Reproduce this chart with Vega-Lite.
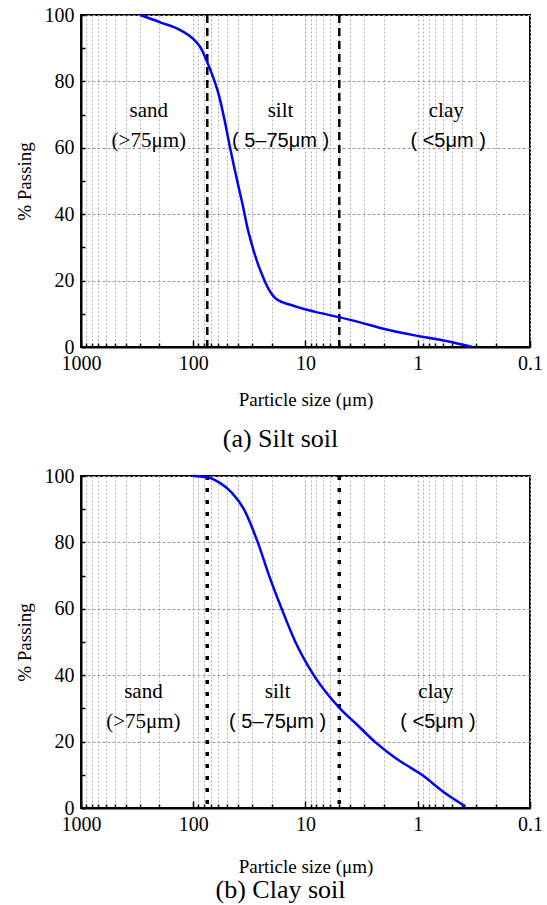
{
  "$schema": "https://vega.github.io/schema/vega-lite/v6.json",
  "padding": {"left": 14, "top": 4, "right": 4, "bottom": 2},
  "background": "white",
  "datasets": {
    "silt_soil": [
      {"size": 298, "passing": 100},
      {"size": 197, "passing": 97.8},
      {"size": 128, "passing": 95.3},
      {"size": 100, "passing": 92.8},
      {"size": 86.5, "passing": 90.3},
      {"size": 75, "passing": 85.8},
      {"size": 66.4, "passing": 81.2},
      {"size": 58.4, "passing": 75.2},
      {"size": 52.5, "passing": 68.2},
      {"size": 47.1, "passing": 60.2},
      {"size": 43.2, "passing": 54.2},
      {"size": 39.4, "passing": 48.1},
      {"size": 35.9, "passing": 42.1},
      {"size": 33.0, "passing": 36.1},
      {"size": 29.6, "passing": 30.1},
      {"size": 26.6, "passing": 25.1},
      {"size": 23.9, "passing": 21.1},
      {"size": 22.2, "passing": 18.6},
      {"size": 20.2, "passing": 16.2},
      {"size": 18.6, "passing": 14.7},
      {"size": 16.1, "passing": 13.5},
      {"size": 13.0, "passing": 12.5},
      {"size": 10.5, "passing": 11.5},
      {"size": 7.33, "passing": 10.2},
      {"size": 5.05, "passing": 9.0},
      {"size": 3.10, "passing": 7.2},
      {"size": 2.02, "passing": 5.5},
      {"size": 0.99, "passing": 3.3},
      {"size": 0.557, "passing": 1.8},
      {"size": 0.326, "passing": 0}
    ],
    "clay_soil": [
      {"size": 100, "passing": 100},
      {"size": 72.3, "passing": 99.5},
      {"size": 58.4, "passing": 98},
      {"size": 45.4, "passing": 95},
      {"size": 35.4, "passing": 90},
      {"size": 26.6, "passing": 80},
      {"size": 21.1, "passing": 70},
      {"size": 16.3, "passing": 60},
      {"size": 12.3, "passing": 50},
      {"size": 8.45, "passing": 40},
      {"size": 4.94, "passing": 30},
      {"size": 3.45, "passing": 25},
      {"size": 2.42, "passing": 20},
      {"size": 1.57, "passing": 15},
      {"size": 1.14, "passing": 12},
      {"size": 0.92, "passing": 10},
      {"size": 0.598, "passing": 5},
      {"size": 0.376, "passing": 0.5}
    ],
    "bounds": [
      {"size": 75},
      {"size": 5}
    ],
    "labels_a": [
      {"zone": "sand", "line": "name", "size": 249, "passing": 71, "label": "sand"},
      {"zone": "sand", "line": "range", "size": 249, "passing": 62, "label": "(>75μm)"},
      {"zone": "silt", "line": "name", "size": 16.7, "passing": 71, "label": "silt"},
      {"zone": "silt", "line": "range", "size": 16.7, "passing": 62, "label": "( 5–75μm )"},
      {"zone": "clay", "line": "name", "size": 0.557, "passing": 71, "label": "clay"},
      {"zone": "clay", "line": "range", "size": 0.536, "passing": 62, "label": "( <5μm )"}
    ],
    "labels_b": [
      {"zone": "sand", "line": "name", "size": 278, "passing": 35, "label": "sand"},
      {"zone": "sand", "line": "range", "size": 278, "passing": 26, "label": "(>75μm)"},
      {"zone": "silt", "line": "name", "size": 17.7, "passing": 35, "label": "silt"},
      {"zone": "silt", "line": "range", "size": 17.7, "passing": 26, "label": "( 5–75μm )"},
      {"zone": "clay", "line": "name", "size": 0.69, "passing": 35, "label": "clay"},
      {"zone": "clay", "line": "range", "size": 0.66, "passing": 26, "label": "( <5μm )"}
    ]
  },
  "vconcat": [
    {
      "width": 449,
      "height": 332,
      "title": {"text": "(a) Silt soil", "orient": "bottom", "anchor": "middle", "frame": "group", "dx": -25, "offset": 17, "fontSize": 26, "font": "Liberation Serif, DejaVu Serif, serif", "fontWeight": "normal", "color": "black"},
      "encoding": {
        "x": {
          "field": "size", "type": "quantitative",
          "scale": {"type": "log", "domain": [0.1, 1000], "reverse": true, "nice": false},
          "axis": {
            "title": "Particle size (μm)",
            "titlePadding": 14,
            "values": [1000, 900, 800, 700, 600, 500, 400, 300, 200, 100, 90, 80, 70, 60, 50, 40, 30, 20, 10, 9, 8, 7, 6, 5, 4, 3, 2, 1, 0.9, 0.8, 0.7, 0.6, 0.5, 0.4, 0.3, 0.2, 0.1],
            "labelExpr": "abs(log(datum.value)/LN10 - round(log(datum.value)/LN10)) < 1e-6 ? format(datum.value, '~g') : ''",
            "tickSize": {"condition": {"test": "abs(log(datum.value)/LN10 - round(log(datum.value)/LN10)) < 1e-6", "value": -7}, "value": -4},
            "labelPadding": 13,
            "labelOverlap": false,
            "labelFlush": false,
            "grid": true,
            "gridColor": "#b0b0b0",
            "gridDash": [2, 2],
            "gridWidth": 1
          }
        },
        "y": {
          "field": "passing", "type": "quantitative",
          "scale": {"domain": [0, 100], "nice": false},
          "axis": {
            "title": "% Passing",
            "titlePadding": 10,
            "values": [0, 10, 20, 30, 40, 50, 60, 70, 80, 90, 100],
            "labelExpr": "datum.value % 20 == 0 ? datum.label : ''",
            "tickSize": -4,
            "labelPadding": 11,
            "grid": true,
            "gridColor": {"condition": {"test": "datum.value % 20 == 0", "value": "#999999"}, "value": "rgba(0,0,0,0)"},
            "gridDash": [3, 2],
            "gridWidth": 1
          }
        }
      },
      "layer": [
        {
          "data": {"name": "bounds"},
          "mark": {"type": "rule", "color": "black", "strokeWidth": 2.5, "strokeDash": [8, 5]},
          "encoding": {"y": null}
        },
        {
          "data": {"name": "silt_soil"},
          "mark": {"type": "line", "color": "#0000ff", "strokeWidth": 2.5, "interpolate": "monotone"}
        },
        {
          "data": {"name": "labels_a"},
          "transform": [{"filter": "datum.line == 'name' || datum.zone == 'sand'"}],
          "mark": {"type": "text", "font": "Liberation Serif, DejaVu Serif, serif", "fontSize": 21, "color": "black", "baseline": "middle", "align": "center"},
          "encoding": {"text": {"field": "label"}}
        },
        {
          "data": {"name": "labels_a"},
          "transform": [{"filter": "datum.line == 'range' && datum.zone != 'sand'"}],
          "mark": {"type": "text", "font": "Liberation Sans, Arial, sans-serif", "fontSize": 20, "color": "black", "baseline": "middle", "align": "center"},
          "encoding": {"text": {"field": "label"}}
        }
      ]
    },
    {
      "width": 449,
      "height": 332,
      "title": {"text": "(b) Clay soil", "orient": "bottom", "anchor": "middle", "frame": "group", "dx": -25, "offset": 1, "fontSize": 26, "font": "Liberation Serif, DejaVu Serif, serif", "fontWeight": "normal", "color": "black"},
      "encoding": {
        "x": {
          "field": "size", "type": "quantitative",
          "scale": {"type": "log", "domain": [0.1, 1000], "reverse": true, "nice": false},
          "axis": {
            "title": "Particle size (μm)",
            "titlePadding": 20,
            "values": [1000, 900, 800, 700, 600, 500, 400, 300, 200, 100, 90, 80, 70, 60, 50, 40, 30, 20, 10, 9, 8, 7, 6, 5, 4, 3, 2, 1, 0.9, 0.8, 0.7, 0.6, 0.5, 0.4, 0.3, 0.2, 0.1],
            "labelExpr": "abs(log(datum.value)/LN10 - round(log(datum.value)/LN10)) < 1e-6 ? format(datum.value, '~g') : ''",
            "tickSize": {"condition": {"test": "abs(log(datum.value)/LN10 - round(log(datum.value)/LN10)) < 1e-6", "value": -7}, "value": -4},
            "labelPadding": 13,
            "labelOverlap": false,
            "labelFlush": false,
            "grid": true,
            "gridColor": "#b0b0b0",
            "gridDash": [2, 2],
            "gridWidth": 1
          }
        },
        "y": {
          "field": "passing", "type": "quantitative",
          "scale": {"domain": [0, 100], "nice": false},
          "axis": {
            "title": "% Passing",
            "titlePadding": 10,
            "values": [0, 10, 20, 30, 40, 50, 60, 70, 80, 90, 100],
            "labelExpr": "datum.value % 20 == 0 ? datum.label : ''",
            "tickSize": -4,
            "labelPadding": 11,
            "grid": true,
            "gridColor": {"condition": {"test": "datum.value % 20 == 0", "value": "#999999"}, "value": "rgba(0,0,0,0)"},
            "gridDash": [3, 2],
            "gridWidth": 1
          }
        }
      },
      "layer": [
        {
          "data": {"name": "bounds"},
          "mark": {"type": "rule", "color": "black", "strokeWidth": 3.5, "strokeDash": [4, 8]},
          "encoding": {"y": null}
        },
        {
          "data": {"name": "clay_soil"},
          "mark": {"type": "line", "color": "#0000ff", "strokeWidth": 2.5, "interpolate": "monotone"}
        },
        {
          "data": {"name": "labels_b"},
          "transform": [{"filter": "datum.line == 'name' || datum.zone == 'sand'"}],
          "mark": {"type": "text", "font": "Liberation Serif, DejaVu Serif, serif", "fontSize": 21, "color": "black", "baseline": "middle", "align": "center"},
          "encoding": {"text": {"field": "label"}}
        },
        {
          "data": {"name": "labels_b"},
          "transform": [{"filter": "datum.line == 'range' && datum.zone != 'sand'"}],
          "mark": {"type": "text", "font": "Liberation Sans, Arial, sans-serif", "fontSize": 20, "color": "black", "baseline": "middle", "align": "center"},
          "encoding": {"text": {"field": "label"}}
        }
      ]
    }
  ],
  "spacing": 12,
  "config": {
    "font": "Liberation Serif, DejaVu Serif, serif",
    "view": {"stroke": "black", "strokeWidth": 2},
    "title": {"font": "Liberation Serif, DejaVu Serif, serif"},
    "text": {"font": "Liberation Serif, DejaVu Serif, serif"},
    "axis": {
      "labelFont": "Liberation Serif, DejaVu Serif, serif",
      "labelFontSize": 20,
      "labelColor": "black",
      "titleFont": "Liberation Serif, DejaVu Serif, serif",
      "titleFontSize": 19,
      "titleFontWeight": "normal",
      "titleColor": "black",
      "domainColor": "black",
      "domainWidth": 2,
      "tickColor": "black",
      "tickWidth": 1.5
    }
  }
}
